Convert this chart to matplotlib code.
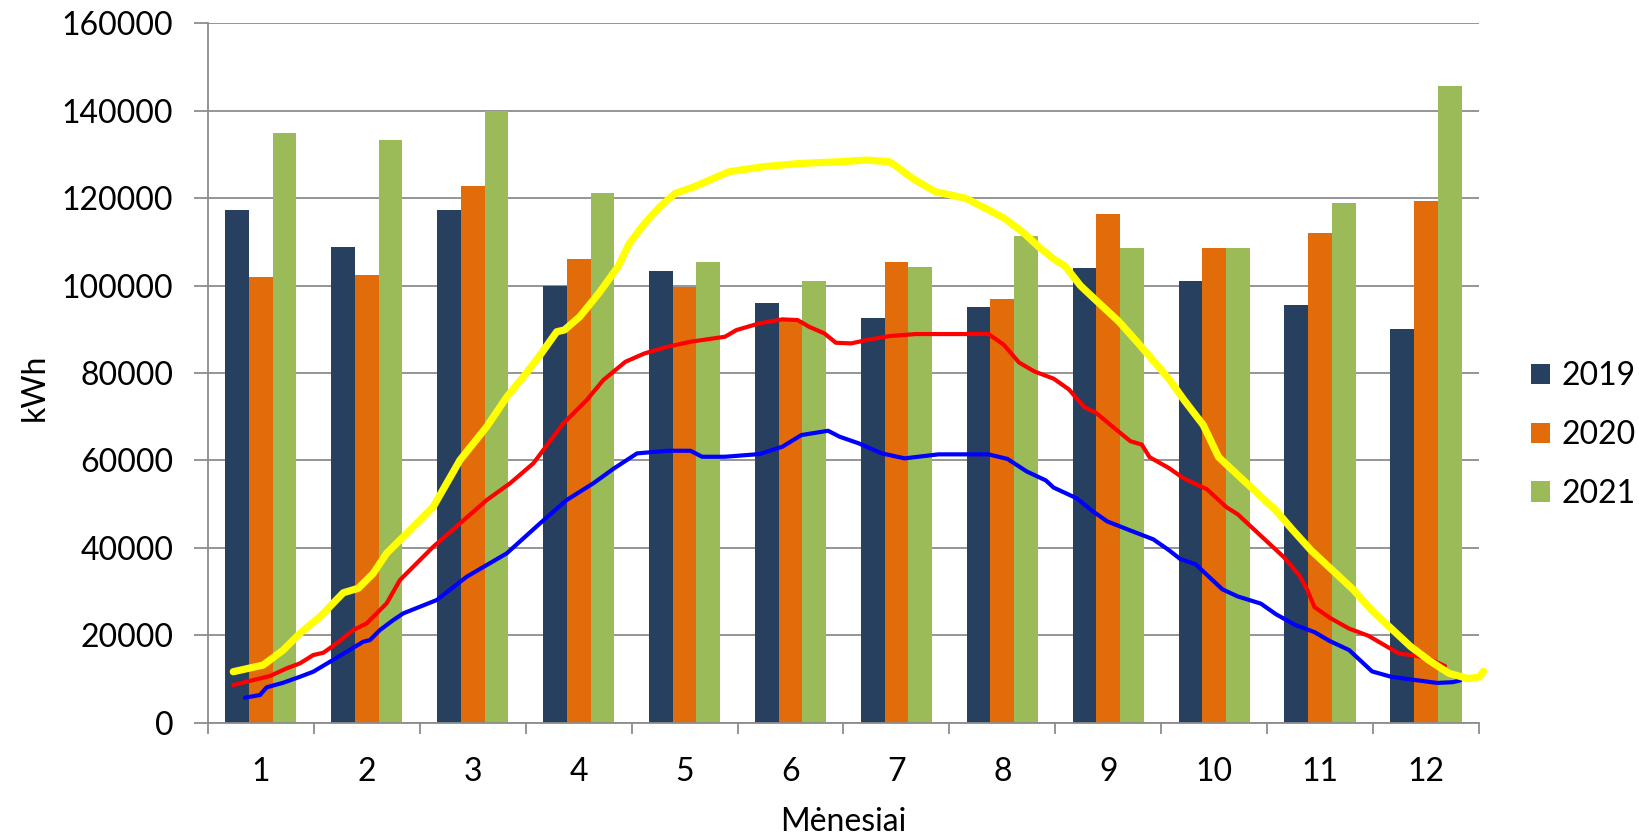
import matplotlib
matplotlib.use("Agg")
import matplotlib.pyplot as plt
import numpy as np
from matplotlib.patches import Patch

# Monthly consumption, kWh
months = [1, 2, 3, 4, 5, 6, 7, 8, 9, 10, 11, 12]
years = ["2019", "2020", "2021"]
kwh_2019 = [117300, 108800, 117300, 100000, 103400, 96000, 92500, 95000, 104000, 101000, 95500, 90000]
kwh_2020 = [102000, 102500, 122800, 106000, 99700, 92000, 105400, 97000, 116400, 108500, 112000, 119300]
kwh_2021 = [135000, 133200, 140000, 121300, 105400, 101000, 104300, 111300, 108500, 108500, 118800, 145600]

# Seasonal profile curves (position along the month axis, kWh)
yellow_x = [0.739, 1.022, 1.211, 1.369, 1.558, 1.778, 1.919, 2.061, 2.187, 2.344, 2.627, 2.880,
            3.132, 3.323, 3.504, 3.648, 3.793, 3.865, 4.010, 4.190, 4.371, 4.479, 4.623, 4.767,
            4.912, 5.092, 5.273, 5.417, 5.742, 6.103, 6.464, 6.717, 6.933, 7.005, 7.150, 7.367,
            7.655, 7.872, 8.013, 8.194, 8.339, 8.484, 8.593, 8.738, 8.918, 9.100, 9.281, 9.426,
            9.571, 9.716, 9.897, 10.042, 10.223, 10.405, 10.585, 10.730, 10.912, 11.129, 11.310,
            11.491, 11.673, 11.854, 12.034, 12.216, 12.397, 12.506, 12.542]
yellow_y = [11670, 13200, 16630, 20450, 24250, 29740, 30750, 34180, 38750, 42550, 49410, 60100,
            67720, 74580, 79930, 84500, 89450, 89840, 92880, 98230, 104320, 109670, 114240, 118050,
            121110, 122620, 124540, 126050, 127200, 127970, 128340, 128720, 128340, 127200, 124540, 121490,
            119970, 117290, 115480, 112230, 108960, 106100, 104460, 99970, 95880, 91800, 86880, 82800,
            78720, 73820, 68100, 60760, 56670, 52580, 48500, 44410, 39510, 34610, 30520,
            25620, 21530, 17450, 14180, 11320, 10090, 10500, 11740]

red_x = [0.739, 0.928, 1.085, 1.243, 1.369, 1.494, 1.589, 1.715, 1.872, 1.999, 2.187, 2.313,
         2.407, 2.627, 2.880, 3.132, 3.352, 3.572, 3.666, 3.855, 4.076, 4.233, 4.442, 4.623,
         4.840, 5.056, 5.381, 5.490, 5.706, 5.923, 6.068, 6.175, 6.320, 6.428, 6.573, 6.717,
         6.933, 7.186, 7.655, 7.868, 8.013, 8.158, 8.303, 8.484, 8.628, 8.774, 8.882, 9.064,
         9.208, 9.317, 9.390, 9.571, 9.716, 9.933, 10.115, 10.223, 10.368, 10.513, 10.658,
         10.802, 10.876, 10.948, 11.093, 11.274, 11.456, 11.600, 11.745, 11.890, 12.034, 12.180]
red_y = [8620, 9770, 10680, 12440, 13590, 15490, 16010, 18160, 21210, 22740, 27310, 32650,
         34940, 40260, 45610, 50950, 54770, 59340, 62380, 68490, 73820, 78400, 82590, 84500,
         86020, 87160, 88300, 89840, 91360, 92280, 92120, 90590, 89070, 86930, 86780, 87540,
         88460, 88920, 88920, 88940, 86490, 82400, 80360, 78720, 76270, 72190, 70960, 67280,
         64420, 63620, 60760, 58290, 55840, 53400, 49320, 47680, 44410, 41140, 37880,
         33790, 30520, 26440, 23990, 21530, 19900, 17860, 15810, 15400, 14600, 12950]

blue_x = [0.849, 0.991, 1.054, 1.211, 1.369, 1.494, 1.652, 1.810, 1.966, 2.030, 2.124, 2.250,
          2.344, 2.660, 2.943, 3.321, 3.635, 3.887, 4.138, 4.334, 4.551, 4.840, 5.056, 5.165,
          5.381, 5.706, 5.923, 6.103, 6.355, 6.464, 6.644, 6.862, 7.078, 7.397, 7.868, 8.049,
          8.230, 8.411, 8.484, 8.701, 8.847, 8.991, 9.208, 9.426, 9.571, 9.679, 9.825, 9.933,
          10.078, 10.223, 10.441, 10.585, 10.767, 10.948, 11.093, 11.274, 11.383, 11.491,
          11.673, 11.926, 12.107, 12.252, 12.324]
blue_y = [5720, 6340, 8100, 9150, 10520, 11670, 13950, 16240, 18530, 18920, 21210, 23490,
          25020, 28070, 33400, 38750, 45610, 50950, 54770, 58190, 61620, 62220, 62220, 60850,
          60850, 61460, 63140, 65810, 66800, 65430, 63920, 61620, 60480, 61400, 61400, 60350,
          57490, 55430, 53800, 51360, 48500, 46050, 43990, 41950, 39510, 37470, 36240, 33790,
          30520, 28890, 27250, 24800, 22350, 20720, 18670, 16630, 14180, 11740,
          10500, 9680, 9100, 9280, 9680]

bar_colors = ["#27405F", "#E36C0A", "#9BBB59"]
grid_gray = "#8C8C8C"
font = ["Lato", "DejaVu Sans"]

plt.rcParams["font.family"] = font
plt.rcParams["font.size"] = 23

fig = plt.figure(figsize=(16.4, 8.4), dpi=100)
ax = fig.add_axes([0.1268, 0.1396, 0.775, 0.8326])

x = np.array(months, dtype=float)
w = 0.224
for i, (vals, col) in enumerate(zip([kwh_2019, kwh_2020, kwh_2021], bar_colors)):
    ax.bar(x + (i - 1) * w, vals, width=w, color=col, zorder=2)

ax.plot(blue_x, blue_y, color="#0000FF", lw=3.0, zorder=4, solid_capstyle="round",
        solid_joinstyle="round", clip_on=False)
ax.plot(red_x, red_y, color="#FF0000", lw=3.0, zorder=4, solid_capstyle="round",
        solid_joinstyle="round", clip_on=False)
ax.plot(yellow_x, yellow_y, color="#FFFF00", lw=5.2, zorder=5, solid_capstyle="round",
        solid_joinstyle="round", clip_on=False)

ax.set_xlim(0.5, 12.5)
ax.set_ylim(0, 160000)
ax.set_yticks(np.arange(0, 160001, 20000))
ax.set_yticklabels([f"{v:d}" for v in range(0, 160001, 20000)])
ax.grid(axis="y", color=grid_gray, lw=1.3, zorder=0)
ax.set_axisbelow(True)

# boundaries between months carry the tick marks, labels sit at the centres
ax.set_xticks(np.arange(0.5, 12.6, 1.0))
ax.set_xticklabels([])
ax.set_xticks(x, minor=True)
ax.set_xticklabels([str(m) for m in months], minor=True)
ax.tick_params(axis="x", which="major", length=8, width=1.3, color=grid_gray, direction="out")
ax.tick_params(axis="x", which="minor", length=0, pad=25)
ax.tick_params(axis="y", length=10, width=1.3, color=grid_gray, direction="out", pad=15)

for side in ["top", "right"]:
    ax.spines[side].set_visible(False)
for side in ["left", "bottom"]:
    ax.spines[side].set_color(grid_gray)
    ax.spines[side].set_linewidth(1.3)

ax.set_xlabel("Mėnesiai")
ax.xaxis.set_label_coords(0.5, -0.142)
ax.xaxis.label.set_va("center")
ax.set_ylabel("kWh")
ax.yaxis.set_label_coords(-0.1365, 0.48)
ax.yaxis.label.set_va("center")

handles = [Patch(facecolor=c, edgecolor="none") for c in bar_colors]
fig.legend(handles, years, loc="center left", bbox_to_anchor=(1531 / 1640, 1 - 435 / 840),
           frameon=False, borderpad=0, borderaxespad=0, handlelength=0.6, handleheight=0.6,
           handletextpad=0.35, labelspacing=0.9)

fig.savefig("out.png", dpi=100)
